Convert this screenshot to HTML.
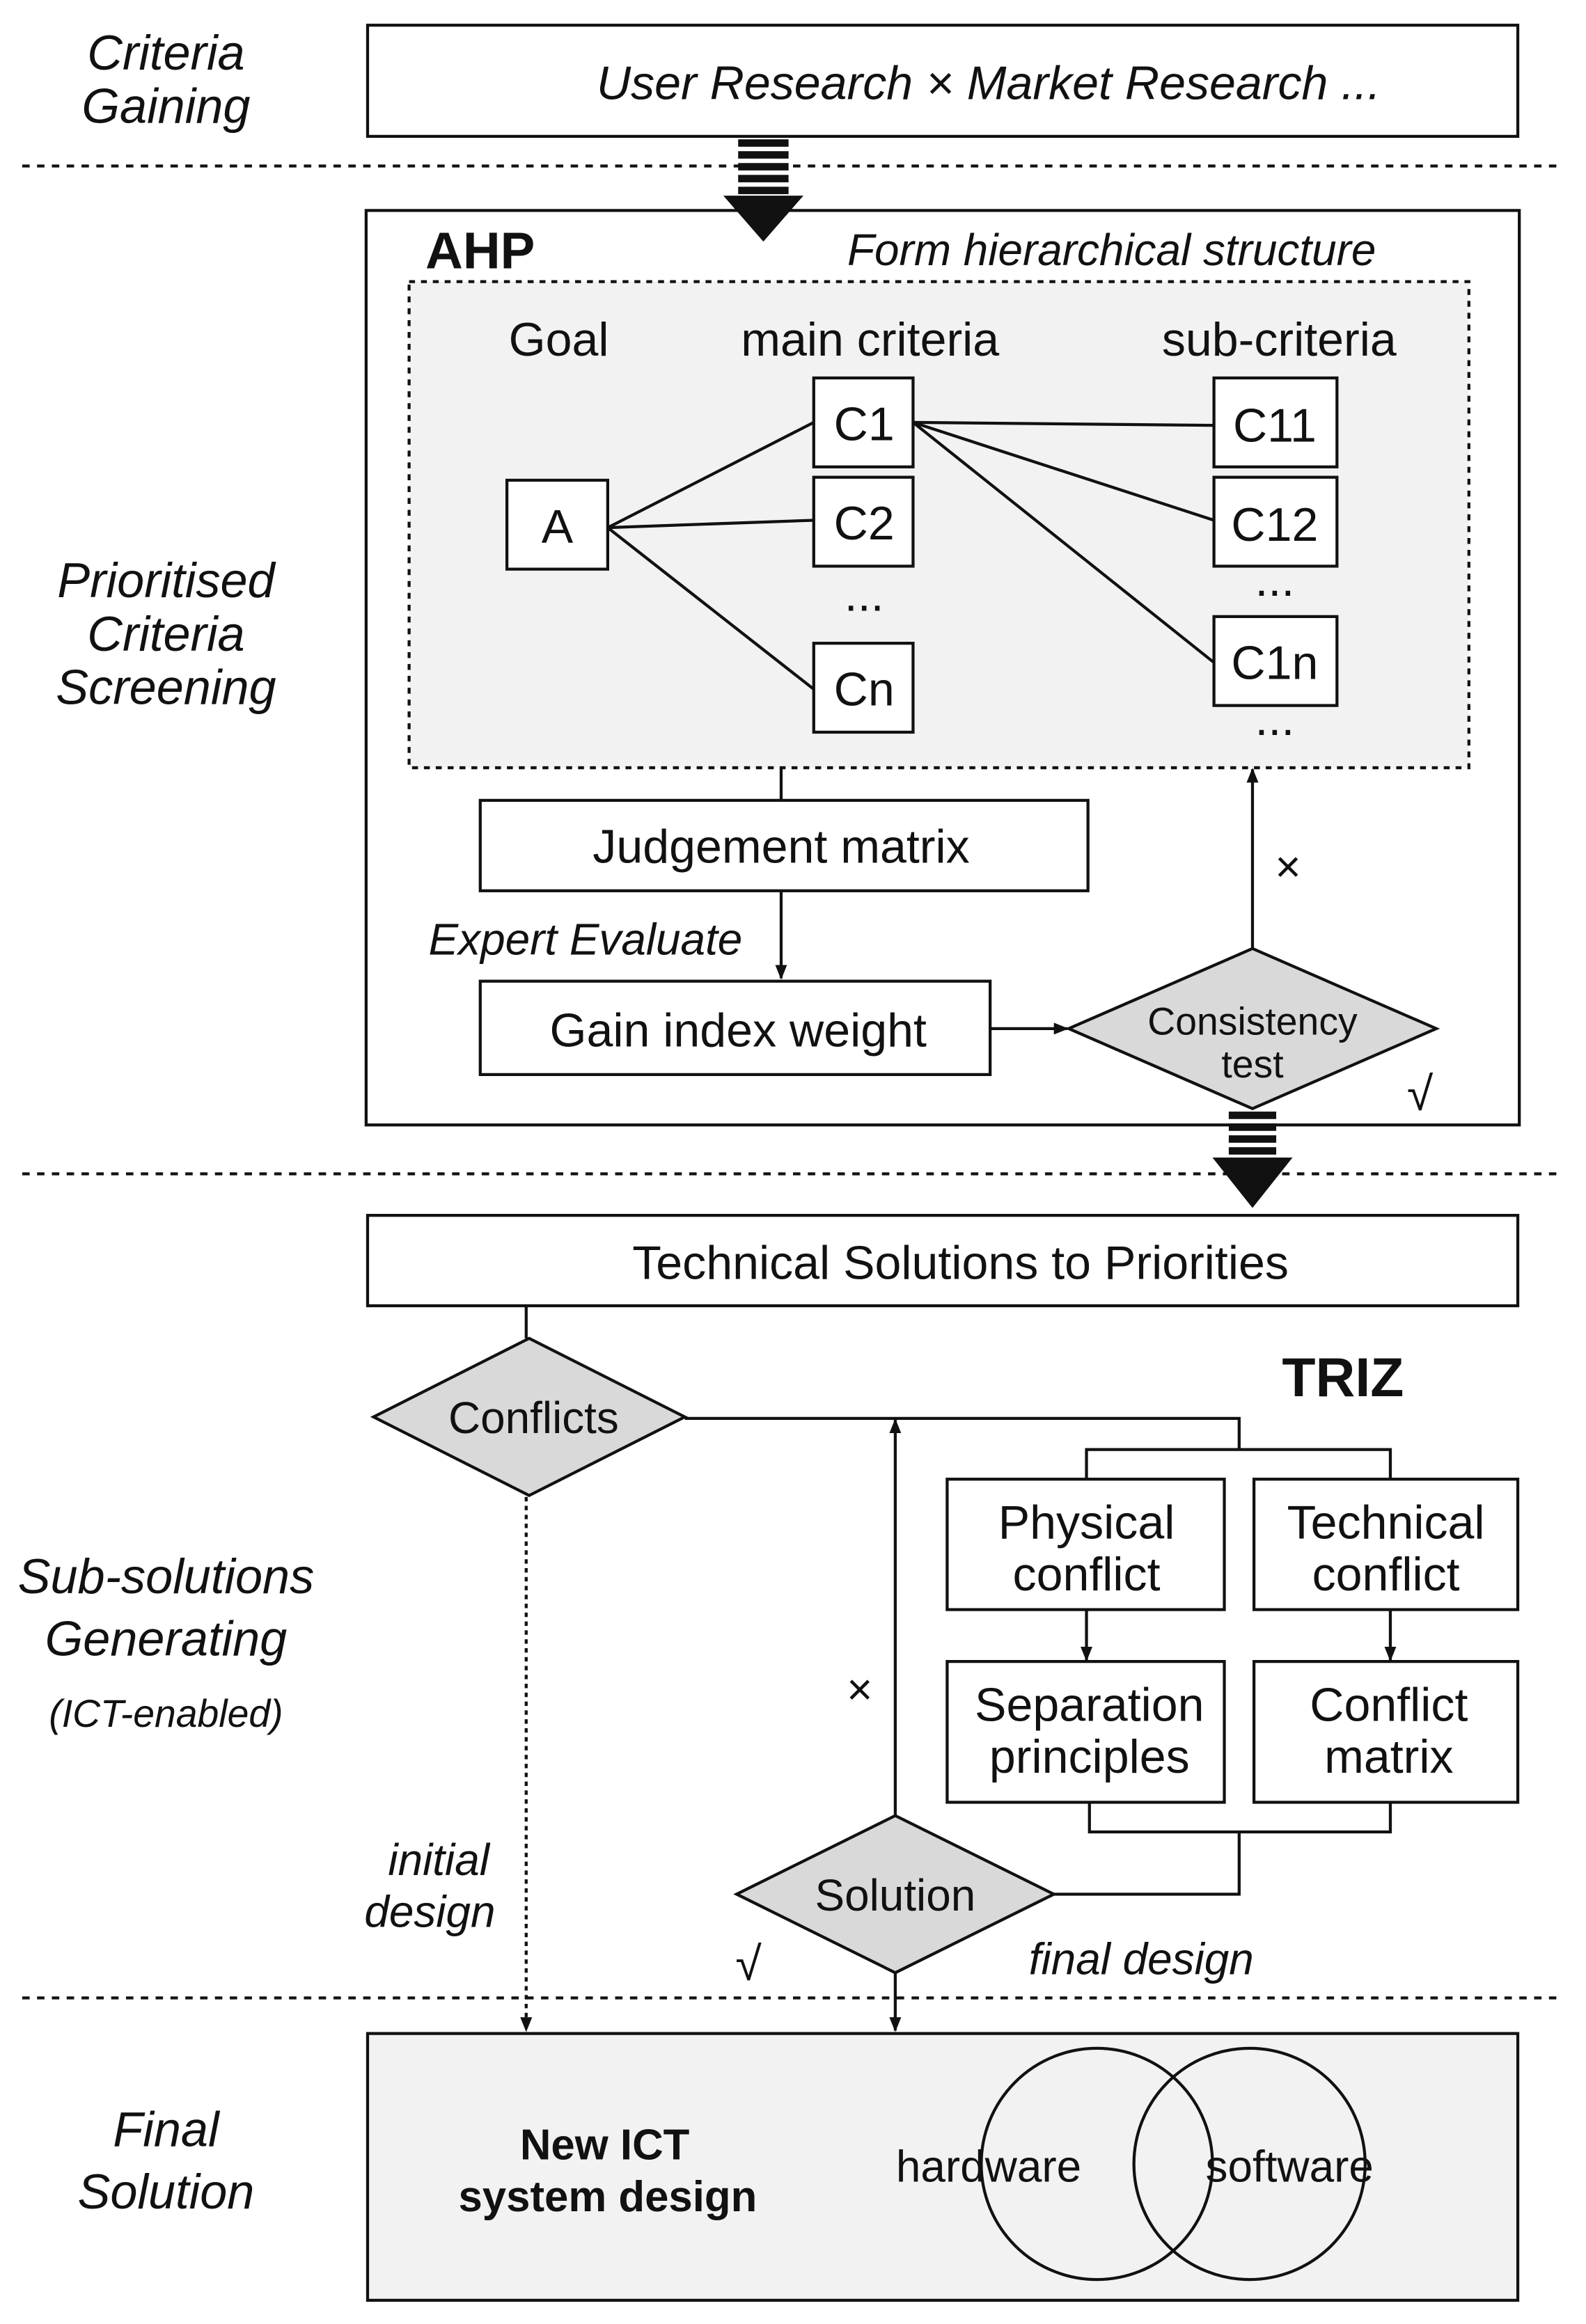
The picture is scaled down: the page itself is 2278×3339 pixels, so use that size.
<!DOCTYPE html>
<html><head><meta charset="utf-8"><style>
html,body{margin:0;padding:0;background:#fff;}
svg{display:block;}
text{font-family:"Liberation Sans",sans-serif;fill:#111;}
.i{font-style:italic;}
.b{font-weight:bold;}
</style></head><body>
<svg width="2278" height="3339" viewBox="0 0 1070 1568" preserveAspectRatio="none" xmlns="http://www.w3.org/2000/svg">
<defs>
<marker id="ar" markerWidth="10" markerHeight="10" refX="9" refY="5" orient="auto" markerUnits="userSpaceOnUse"><path d="M0,1 L10,5 L0,9 z" fill="#111"/></marker>
</defs>
<g stroke="#111" stroke-width="2" stroke-dasharray="5,5">
<line x1="15" y1="112" x2="1052" y2="112"/>
<line x1="15" y1="792" x2="1052" y2="792"/>
<line x1="15" y1="1348" x2="1052" y2="1348"/>
</g>
<g font-size="33" text-anchor="middle" class="i">
<text x="112" y="47" class="i">Criteria</text>
<text x="112" y="83" class="i">Gaining</text>
<text x="112" y="403" class="i">Prioritised</text>
<text x="112" y="439" class="i">Criteria</text>
<text x="112" y="475" class="i">Screening</text>
<text x="112" y="1075" class="i">Sub-solutions</text>
<text x="112" y="1117" class="i">Generating</text>
<text x="112" y="1165" class="i" font-size="26">(ICT-enabled)</text>
<text x="112" y="1448" class="i">Final</text>
<text x="112" y="1490" class="i">Solution</text>
</g>
<rect x="248" y="17" width="776" height="75" fill="#fff" stroke="#111" stroke-width="2"/>
<text x="667" y="67" font-size="32" text-anchor="middle" class="i">User Research × Market Research ...</text>
<rect x="247" y="142" width="778" height="617" fill="#fff" stroke="#111" stroke-width="2"/>
<g fill="#111"><rect x="498" y="94" width="34" height="5"/><rect x="498" y="102" width="34" height="5"/><rect x="498" y="110" width="34" height="5"/><rect x="498" y="118" width="34" height="5"/><rect x="498" y="126" width="34" height="5"/><path d="M488,132 L542,132 L515,163 z"/></g>
<text x="287" y="181" font-size="35" class="b">AHP</text>
<text x="750" y="179" font-size="30" text-anchor="middle" class="i">Form hierarchical structure</text>
<rect x="276" y="190" width="715" height="328" fill="#f2f2f2" stroke="#111" stroke-width="2" stroke-dasharray="4,4"/>
<g font-size="32" text-anchor="middle">
<text x="377" y="240">Goal</text><text x="587" y="240">main criteria</text><text x="863" y="240">sub-criteria</text>
</g>
<g stroke="#111" stroke-width="2">
<line x1="410" y1="356" x2="549" y2="285"/><line x1="410" y1="356" x2="549" y2="351"/><line x1="410" y1="356" x2="549" y2="465"/>
<line x1="616" y1="285" x2="819" y2="287"/><line x1="616" y1="285" x2="819" y2="351"/><line x1="616" y1="285" x2="819" y2="447"/>
</g>
<g fill="#fff" stroke="#111" stroke-width="2">
<rect x="342" y="324" width="68" height="60"/>
<rect x="549" y="255" width="67" height="60"/><rect x="549" y="322" width="67" height="60"/><rect x="549" y="434" width="67" height="60"/>
<rect x="819" y="255" width="83" height="60"/><rect x="819" y="322" width="83" height="60"/><rect x="819" y="416" width="83" height="60"/>
</g>
<g font-size="32" text-anchor="middle">
<text x="376" y="366">A</text>
<text x="583" y="297">C1</text><text x="583" y="364">C2</text><text x="583" y="412">...</text><text x="583" y="476">Cn</text>
<text x="860" y="298">C11</text><text x="860" y="365">C12</text><text x="860" y="402">...</text><text x="860" y="458">C1n</text><text x="860" y="496">...</text>
</g>
<line x1="527" y1="518" x2="527" y2="540" stroke="#111" stroke-width="2"/>
<rect x="324" y="540" width="410" height="61" fill="#fff" stroke="#111" stroke-width="2"/>
<text x="527" y="582" font-size="32" text-anchor="middle">Judgement matrix</text>
<line x1="527" y1="601" x2="527" y2="660" stroke="#111" stroke-width="2" marker-end="url(#ar)"/>
<text x="395" y="644" font-size="30" text-anchor="middle" class="i">Expert Evaluate</text>
<rect x="324" y="662" width="344" height="63" fill="#fff" stroke="#111" stroke-width="2"/>
<text x="498" y="706" font-size="32" text-anchor="middle">Gain index weight</text>
<line x1="668" y1="694" x2="720" y2="694" stroke="#111" stroke-width="2" marker-end="url(#ar)"/>
<path d="M721,694 L845,640 L969,694 L845,748 z" fill="#d9d9d9" stroke="#111" stroke-width="2"/>
<text x="845" y="698" font-size="26" text-anchor="middle">Consistency</text>
<text x="845" y="727" font-size="26" text-anchor="middle">test</text>
<line x1="845" y1="640" x2="845" y2="519" stroke="#111" stroke-width="2" marker-end="url(#ar)"/>
<text x="869" y="595" font-size="30" text-anchor="middle">×</text>
<text x="958" y="749" font-size="32" text-anchor="middle">√</text>
<g fill="#111"><rect x="829" y="750" width="32" height="5"/><rect x="829" y="758" width="32" height="5"/><rect x="829" y="766" width="32" height="5"/><rect x="829" y="774" width="32" height="5"/><path d="M818,781 L872,781 L845,815 z"/></g>
<rect x="248" y="820" width="776" height="61" fill="#fff" stroke="#111" stroke-width="2"/>
<text x="648" y="863" font-size="32" text-anchor="middle">Technical Solutions to Priorities</text>
<line x1="355" y1="881" x2="355" y2="903" stroke="#111" stroke-width="2"/>
<path d="M252,956 L357,903 L462,956 L357,1009 z" fill="#d9d9d9" stroke="#111" stroke-width="2"/>
<text x="360" y="967" font-size="30" text-anchor="middle">Conflicts</text>
<text x="906" y="942" font-size="37" text-anchor="middle" class="b">TRIZ</text>
<g stroke="#111" stroke-width="2" fill="none">
<polyline points="462,957 836,957 836,978"/>
<polyline points="733,998 733,978 938,978 938,998"/>
<polyline points="735,1216 735,1236 938,1236 938,1216"/>
<polyline points="836,1236 836,1278 711,1278"/>
</g>
<g fill="#fff" stroke="#111" stroke-width="2">
<rect x="639" y="998" width="187" height="88"/><rect x="846" y="998" width="178" height="88"/>
<rect x="639" y="1121" width="187" height="95"/><rect x="846" y="1121" width="178" height="95"/>
</g>
<g font-size="32" text-anchor="middle">
<text x="733" y="1038">Physical</text><text x="733" y="1073">conflict</text>
<text x="935" y="1038">Technical</text><text x="935" y="1073">conflict</text>
<text x="735" y="1161">Separation</text><text x="735" y="1196">principles</text>
<text x="937" y="1161">Conflict</text><text x="937" y="1196">matrix</text>
</g>
<line x1="733" y1="1086" x2="733" y2="1120" stroke="#111" stroke-width="2" marker-end="url(#ar)"/>
<line x1="938" y1="1086" x2="938" y2="1120" stroke="#111" stroke-width="2" marker-end="url(#ar)"/>
<path d="M497,1278 L604,1225 L711,1278 L604,1331 z" fill="#d9d9d9" stroke="#111" stroke-width="2"/>
<text x="604" y="1289" font-size="30" text-anchor="middle">Solution</text>
<line x1="604" y1="1225" x2="604" y2="958" stroke="#111" stroke-width="2" marker-end="url(#ar)"/>
<text x="580" y="1150" font-size="30" text-anchor="middle">×</text>
<text x="505" y="1336" font-size="32" text-anchor="middle">√</text>
<text x="770" y="1332" font-size="30" text-anchor="middle" class="i">final design</text>
<line x1="604" y1="1331" x2="604" y2="1370" stroke="#111" stroke-width="2" marker-end="url(#ar)"/>
<line x1="355" y1="1010" x2="355" y2="1370" stroke="#111" stroke-width="2" stroke-dasharray="3,3" marker-end="url(#ar)"/>
<text x="296" y="1265" font-size="30" text-anchor="middle" class="i">initial</text>
<text x="290" y="1300" font-size="30" text-anchor="middle" class="i">design</text>
<rect x="248" y="1372" width="776" height="180" fill="#f2f2f2" stroke="#111" stroke-width="2"/>
<text x="408" y="1457" font-size="29" text-anchor="middle" class="b">New ICT</text>
<text x="410" y="1492" font-size="29" text-anchor="middle" class="b">system design</text>
<circle cx="740" cy="1460" r="78" fill="none" stroke="#111" stroke-width="2"/>
<circle cx="843" cy="1460" r="78" fill="none" stroke="#111" stroke-width="2"/>
<text x="667" y="1472" font-size="30" text-anchor="middle">hardware</text>
<text x="870" y="1472" font-size="30" text-anchor="middle">software</text>
</svg>
</body></html>
